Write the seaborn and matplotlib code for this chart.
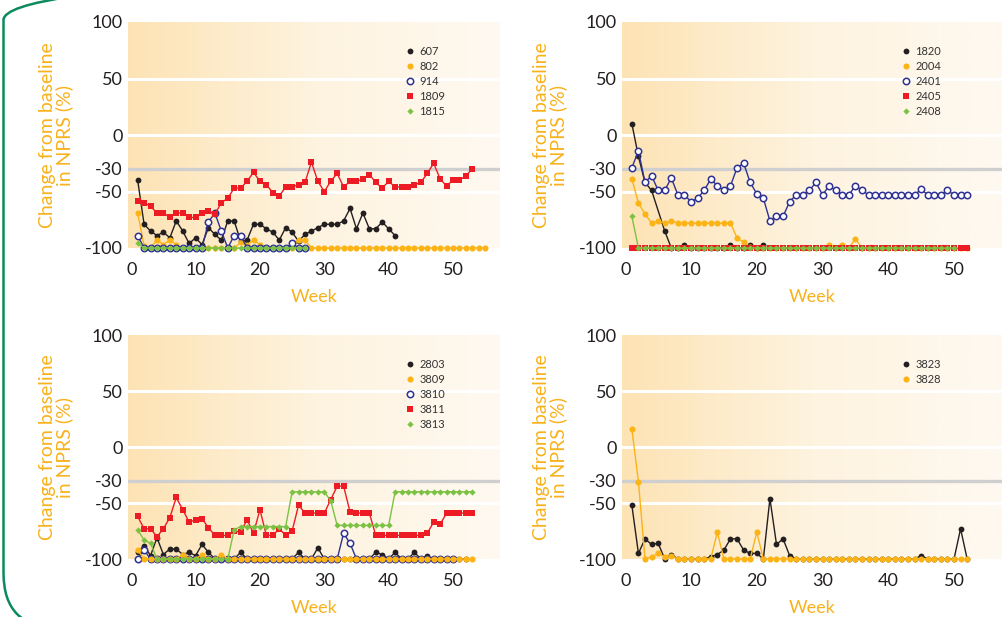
"""
NPRS change from baseline per patient, four panels.
"""
import numpy as np
import pandas as pd
import matplotlib
matplotlib.use("Agg")
import matplotlib.pyplot as plt
import seaborn as sns
from matplotlib.colors import LinearSegmentedColormap
from matplotlib.lines import Line2D
from matplotlib.patches import FancyBboxPatch

sns.set_style("white")
plt.rcParams["font.family"] = ["Lato", "DejaVu Sans"]

# ====================== DATA (weekly values, week 1 onwards) ======================
N = np.nan

# top left
p607 = [-40, -79, -85, -89, -86, -91, -76, -85, -96, -91,
        -97, -82, -88, -93, -76, -76, -94, -93, -79, -79,
        -83, -86, -93, -82, -86, -94, -88, -85, -82, -79,
        -79, -79, -76, -65, -83, -69, -83, -83, -77, -83, -89]
p802 = [-69, -98, -100, -93, -97, -93, -97, -100, -100, -100,
        -100, -100, -100, -100, -100, -100, -95, -97, -93, -97,
        -100, -100, -100, -100, -100, -93, -93] + [-100] * 28
p914 = [-89, -100, -100, -100, -100, -100, -100, -100, -100, -100,
        -100, -77, -69, -85, -100, -89, -89, -100, -100, -100,
        -100, -100, -100, -100, -96, -100, -100]
p1809 = [-58, -60, -63, -69, -69, -73, -69, -69, -73, -73,
         -69, -67, -70, -60, -56, -47, -47, -41, -33, -41,
         -44, -51, -54, -46, -46, -44, -42, -24, -41, -50,
         -41, -34, -46, -41, -41, -39, -35, -42, -47, -41,
         -46, -46, -46, -44, -42, -34, -25, -39, -45, -40,
         -40, -36, -30]
p1815 = [-96] + [-100] * 26

# top right
p1820 = [10, -19, -42, -49, N, -85, -100, -100, -97, -100,
         -100, -100, -100, -100, -100, -97, -100, -100, -97, -100, -97]
p2004 = [-39, -60, -70, -78, -76, -78, -76, -78, -78, -78,
         -78, -78, -78, -78, -78, -78, -91, -95, -99, -100,
         -100, -100, -100, -100, -100, -100, -100, -100, -100, -100,
         -97, -100, -97, -100, -92] + [-100] * 17
p2401 = [-29, -14, -42, -36, -49, -49, -38, -53, -53, -59,
         -56, -49, -39, -45, -49, -45, -29, -25, -42, -52,
         -56, -76, -72, -72, -59, -53, -53, -49, -42, -53,
         -45, -49, -53, -53, -45, -49, -53, -53, -53, -53,
         -53, -53, -53, -53, -48, -53, -53, -53, -49, -53,
         -53, -53]
p2405 = [-100] * 52
p2408 = [-72] + [-100] * 49

# bottom left
p2803 = [-94, -88, -97, -81, -96, -91, -91, -96, -94, -97,
         -87, -94, -100, -100, -100, -100, -94, -100, -100, -100,
         -100, -100, -100, -100, -100, -94, -100, -100, -90, -100,
         -100, -100, -100, -100, -100, -100, -100, -94, -96, -100,
         -94, -100, -100, -94, -100, -97, -100, -100, -100, -100,
         -100, -100]
p3809 = [-92, -100, -100, -100, -100, -100, -100, -96, -100, -100,
         -96, -100, -100, -96] + [-100] * 39
p3810 = [-100, -92] + [-100] * 30 + [-77, -86] + [-100] * 16
p3811 = [-62, -73, -73, -80, -73, -63, -45, -56, -67, -65,
         -64, -72, -79, -79, -79, -75, -76, -65, -77, -56,
         -79, -79, -73, -79, -75, -52, -59, -59, -59, -59,
         -47, -35, -35, -58, -59, -59, -59, -79, -79, -79,
         -79, -79, -79, -79, -79, -77, -67, -69, -59, -59,
         -59, -59, -59]
p3813 = [-74, -83, -86, -100, -100, -100, -100, -100, -100, -100,
         -100, -100, -100, -100, -100, -74, -71, -71, -71, -71,
         -71, -71, -71, -71, -40, -40, -40, -40, -40, -40,
         -48, -70, -70, -70, -70, -70, -70, -70, -70, -70,
         -40, -40, -40, -40, -40, -40, -40, -40, -40, -40,
         -40, -40, -40]

# bottom right
p3823 = [-52, -95, -82, -87, -86, -100, -96, -100, -100, -100,
         -100, -100, -98, -96, -92, -82, -82, -92, -95, -95,
         -100, -46, -87, -82, -97] + [-100] * 19 + [-97, -100, -100,
         -100, -100, -100, -73, -100]
p3828 = [16, -31, -100, -98, -95, -98, -97, -100, -100, -100,
         -100, -100, -100, -76, -100, -100, -100, -100, -100, -76] + [-100] * 32

Y_TICKS = [-100, -50, -30, 0, 50, 100]
X_TICKS = [0, 10, 20, 30, 40, 50]

# ====================== STYLE ======================
ORANGE_TXT = "#f8b21c"
DARK = "#231f20"

STYLE = {
    "black": dict(color=DARK, marker="o", markersize=4.2, markerfacecolor=DARK,
                  markeredgecolor=DARK, markeredgewidth=0),
    "orange": dict(color="#fbb316", marker="o", markersize=4.4, markerfacecolor="#fbb316",
                   markeredgecolor="#fbb316", markeredgewidth=0),
    "blue": dict(color="#2e3192", marker="o", markersize=4.6, markerfacecolor="white",
                 markeredgecolor="#2e3192", markeredgewidth=1.1),
    "red": dict(color="#ed1c24", marker="s", markersize=3.9, markerfacecolor="#ed1c24",
                markeredgecolor="#ed1c24", markeredgewidth=0),
    "green": dict(color="#7cc242", marker="D", markersize=3.2, markerfacecolor="#7cc242",
                  markeredgecolor="#7cc242", markeredgewidth=0),
}

bg_cmap = LinearSegmentedColormap.from_list("bg", ["#fde3b4", "#fef3df", "#fef9f1"])

W, H = 1002, 617
fig = plt.figure(figsize=(W / 100, H / 100), dpi=100)


def px_axes(left, top, right, bottom):
    return fig.add_axes([left / W, 1 - bottom / H, (right - left) / W, (bottom - top) / H])


def add_legend(ax, handles, labels, legend_x):
    leg = ax.legend(handles, labels, loc="upper left", bbox_to_anchor=(legend_x, 0.895),
                    frameon=False, fontsize=8, handlelength=0.5, handletextpad=0.6,
                    labelspacing=0.36, borderpad=0, borderaxespad=0)
    for t in leg.get_texts():
        t.set_color("#333333")


def draw_panel(ax, series, legend_x, legend_order=None):
    ax.imshow(np.linspace(0, 1, 256).reshape(1, -1), cmap=bg_cmap, aspect="auto",
              extent=[0, 1, 0, 1], transform=ax.transAxes, zorder=0)
    for yv in (50, 0, -50):
        ax.axhline(yv, color="white", lw=2.2, zorder=1)
    ax.axhline(-30, color="#cfcfcf", lw=2.4, zorder=1)

    handles, labels = [], []
    for z, (label, vals, key) in enumerate(series):
        st = STYLE[key]
        df = pd.DataFrame({"week": np.arange(1, len(vals) + 1), "value": vals}).dropna()
        sns.lineplot(data=df, x="week", y="value", ax=ax, lw=1.0, zorder=3 + z,
                     clip_on=False, **st)
        handles.append(Line2D([], [], linestyle="", **{k: v for k, v in st.items() if k != "color"}))
        labels.append(label)

    ax.set_xlim(-0.5, 57.3)
    ax.set_ylim(-100, 100)
    ax.set_xticks(X_TICKS)
    ax.set_yticks(Y_TICKS)
    ax.set_yticklabels([str(v) for v in Y_TICKS])
    ax.tick_params(axis="y", length=0, pad=4, labelsize=13, labelcolor=DARK)
    ax.tick_params(axis="x", direction="inout", length=6.5, width=0.9, color="#444444",
                   pad=7, labelsize=13, labelcolor=DARK)
    for sp in ax.spines.values():
        sp.set_visible(False)
    ax.set_xlabel("Week", color=ORANGE_TXT, fontsize=13, labelpad=8)
    ax.set_ylabel("Change from baseline\nin NPRS (%)", color=ORANGE_TXT, fontsize=14,
                  labelpad=8, linespacing=0.95)

    if legend_order is not None:
        handles = [handles[i] for i in legend_order]
        labels = [labels[i] for i in legend_order]
    add_legend(ax, handles, labels, legend_x)


ax_tl = px_axes(128, 22, 500, 248)
ax_tr = px_axes(622, 22, 1002, 248)
ax_bl = px_axes(128, 335, 500, 559)
ax_br = px_axes(622, 335, 1002, 559)

draw_panel(ax_tl, [("607", p607, "black"), ("802", p802, "orange"), ("914", p914, "blue"),
                   ("1809", p1809, "red"), ("1815", p1815, "green")], 0.75)
draw_panel(ax_tr, [("1820", p1820, "black"), ("2004", p2004, "orange"), ("2401", p2401, "blue"),
                   ("2405", p2405, "red"), ("2408", p2408, "green")], 0.74)
# blue drawn under orange here, legend keeps the reference order
draw_panel(ax_bl, [("2803", p2803, "black"), ("3810", p3810, "blue"), ("3809", p3809, "orange"),
                   ("3811", p3811, "red"), ("3813", p3813, "green")], 0.75,
           legend_order=[0, 2, 1, 3, 4])
draw_panel(ax_br, [("3823", p3823, "black"), ("3828", p3828, "orange")], 0.74)

# green rounded frame (cut by the image edges)
fig.patches.append(FancyBboxPatch((3.5, -11), 1200, 663, boxstyle="round,pad=0,rounding_size=55",
                                  transform=None, fill=False, ec="#0b8a5b", lw=1.8))

fig.savefig("out.png", dpi=100)
